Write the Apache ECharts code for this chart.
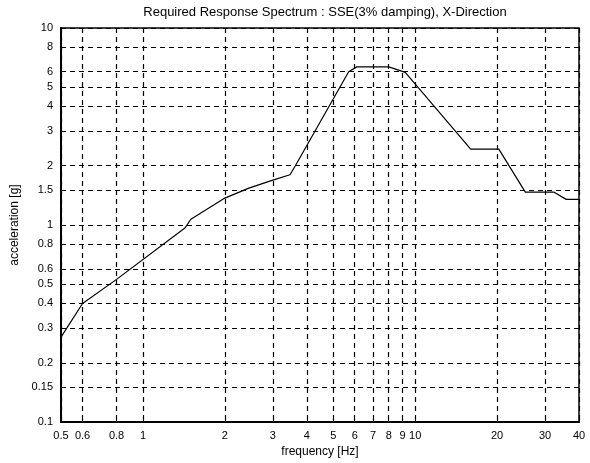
<!DOCTYPE html>
<html>
<head>
<meta charset="utf-8">
<script src="https://cdn.jsdelivr.net/npm/echarts@6/dist/echarts.min.js"></script>
<style>
  html, body { margin: 0; padding: 0; background: #fff; }
  #rrsChart { width: 590px; height: 463px; }
</style>
</head>
<body>
<div id="rrsChart"></div>
<script>
// frequency [Hz] / acceleration [g] corner points
var freq  = [0.5, 0.6, 0.8, 1.43, 1.5, 2.0, 2.45, 3.0, 3.47, 3.63, 5.7, 6.1, 8.0, 9.2, 16, 20.3, 25.4, 32.3, 35.9, 40]
var accel = [0.27, 0.4, 0.53, 0.97, 1.07, 1.37, 1.54, 1.69, 1.8, 2.0, 6.0, 6.35, 6.35, 5.95, 2.43, 2.43, 1.47, 1.47, 1.35, 1.35]

var xTicks = [0.5, 0.6, 0.8, 1, 2, 3, 4, 5, 6, 7, 8, 9, 10, 20, 30, 40]
var yTicks = [0.1, 0.15, 0.2, 0.3, 0.4, 0.5, 0.6, 0.8, 1, 1.5, 2, 3, 4, 5, 6, 8, 10]

var pts = []
for (var i = 0; i < freq.length; i++) {
  pts.push([freq[i], accel[i]])
}

var chart = echarts.init(document.getElementById('rrsChart'))
var fontF = 'Liberation Sans, Arial, sans-serif'
var gridDash = { show: true, lineStyle: { color: '#000', width: 1.2, type: [5, 4] } }

var option = {
  animation: false,
  title: {
    text: 'Required Response Spectrum : SSE(3% damping), X-Direction',
    left: 320, top: 1, textAlign: 'center',
    textStyle: { fontFamily: fontF, fontSize: 13, fontWeight: 'normal', color: '#000' }
  },
  grid: { left: 61, right: 11, top: 28, bottom: 40, show: true, borderColor: '#000', borderWidth: 1.5 },
  xAxis: {
    type: 'log', logBase: 10, min: 0.5, max: 40,
    name: 'frequency [Hz]', nameLocation: 'middle', nameGap: 21,
    nameTextStyle: { fontFamily: fontF, fontSize: 12, color: '#000' },
    axisLine: { show: true, lineStyle: { color: '#000', width: 2 } },
    axisTick: { show: true, inside: true, length: 4, customValues: xTicks, lineStyle: { color: '#000' } },
    axisLabel: {
      customValues: xTicks, margin: 8,
      fontFamily: fontF, fontSize: 11, color: '#000',
      formatter: function (v) { return String(+(+v).toPrecision(3)) }
    },
    splitLine: gridDash
  },
  yAxis: {
    type: 'log', logBase: 10, min: 0.1, max: 10,
    name: 'acceleration [g]', nameLocation: 'middle', nameGap: 39,
    nameTextStyle: { fontFamily: fontF, fontSize: 12, color: '#000' },
    axisLine: { show: true, lineStyle: { color: '#000', width: 2 } },
    axisTick: { show: true, inside: true, length: 4, customValues: yTicks, lineStyle: { color: '#000' } },
    axisLabel: {
      customValues: yTicks, margin: 8,
      fontFamily: fontF, fontSize: 11, color: '#000',
      formatter: function (v) { return String(+(+v).toPrecision(3)) }
    },
    splitLine: gridDash
  },
  series: [{
    type: 'line',
    data: pts,
    symbol: 'none',
    lineStyle: { color: '#000', width: 1.2 }
  }]
}
chart.setOption(option)
</script>
</body>
</html>
